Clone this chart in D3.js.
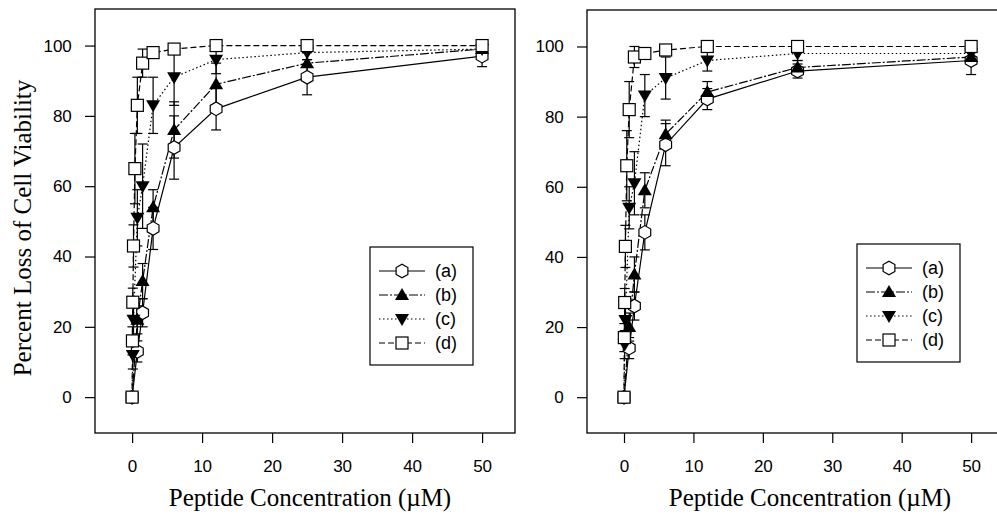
<!DOCTYPE html>
<html>
<head>
<meta charset="utf-8">
<script src="https://cdn.jsdelivr.net/npm/d3@7"></script>
<style>
  body { margin: 0; background: #fff; }
  svg { display: block; }
</style>
</head>
<body>
<div id="chart"></div>
<script>
// peptide concentrations (uM), shared by every series
var conc = [0, 0.05, 0.1, 0.2, 0.4, 0.75, 1.5, 3, 6, 12, 25, 50];

// left panel, percent loss of viability (null = point not drawn)
var leftA = [0, null, null, null, null, 13, 24, 48, 71, 82, 91, 97];
var leftB = [0, null, null, null, null, 22, 33, 54, 76, 89, 95, 99];
var leftC = [0, null, 12, 22, null, 51, 60, 83, 91, 96, 98, 99];
var leftD = [0, 16, 27, 43, 65, 83, 95, 98, 99, 100, 100, 100];
var leftErrA = [0, 0, 0, 0, 0, 3, 4, 6, 9, 6, 5, 3];
var leftErrB = [0, 0, 0, 0, 0, 4, 5, 5, 8, 6, 3, 2];
var leftErrC = [0, 0, 4, 5, 0, 8, 12, 8, 8, 4, 2, 1];
var leftErrD = [0, 4, 4, 6, 10, 8, 4, 1, 1, 1, 1, 1];

// right panel
var rightA = [0, null, null, null, null, 14, 26, 47, 72, 85, 93, 96];
var rightB = [0, null, null, null, null, 20, 35, 59, 75, 87, 94, 97];
var rightC = [0, null, 15, 22, null, 54, 61, 86, 91, 96, 98, 98];
var rightD = [0, 17, 27, 43, 66, 82, 97, 98, 99, 100, 100, 100];
var rightErrA = [0, 0, 0, 0, 0, 3, 4, 5, 6, 3, 2, 4];
var rightErrB = [0, 0, 0, 0, 0, 4, 5, 5, 4, 3, 2, 2];
var rightErrC = [0, 0, 4, 5, 0, 6, 9, 6, 6, 3, 2, 1];
var rightErrD = [0, 4, 4, 6, 10, 8, 3, 1, 1, 1, 1, 1];

var seriesNames = ["(a)", "(b)", "(c)", "(d)"];
var xTicks = [0, 10, 20, 30, 40, 50];
var yTicks = [0, 20, 40, 60, 80, 100];

function init() {
    var w = 997;
    var h = 518;

    var svg = d3.select("#chart")
                .append("svg")
                .attr("width", w)
                .attr("height", h);

    // one style per series: line dash and marker
    var styles = [
      {dash: null, marker: "hex"},
      {dash: "9,2,2,2", marker: "up"},
      {dash: "1.5,2.5", marker: "down"},
      {dash: "6,3", marker: "square"}
    ];

    function drawMarker(g, type, x, y) {
      if (type === "square") {
        g.append("rect")
         .attr("x", x - 6).attr("y", y - 6)
         .attr("width", 12).attr("height", 12)
         .attr("fill", "#fff").attr("stroke", "#000").attr("stroke-width", 1.2);
      } else if (type === "hex") {
        var pts = d3.range(6).map(function(i) {
          var a = Math.PI / 6 + i * Math.PI / 3;
          return [x + 6.8 * Math.cos(a), y + 6.8 * Math.sin(a)];
        });
        g.append("polygon")
         .attr("points", pts.join(" "))
         .attr("fill", "#fff").attr("stroke", "#000").attr("stroke-width", 1.2);
      } else if (type === "up") {
        g.append("polygon")
         .attr("points", [[x, y - 7], [x - 7, y + 5], [x + 7, y + 5]].join(" "))
         .attr("fill", "#000");
      } else {
        g.append("polygon")
         .attr("points", [[x, y + 7], [x - 7, y - 5], [x + 7, y - 5]].join(" "))
         .attr("fill", "#000");
      }
    }

    function panel(opts) {
      var xScale = d3.scaleLinear()
                     .domain(opts.xDomain)
                     .range([opts.left, opts.right]);
      var yScale = d3.scaleLinear()
                     .domain([-10.2, 110.4])
                     .range([433, opts.top]);

      var g = svg.append("g");

      // frame
      g.append("rect")
       .attr("x", opts.left).attr("y", opts.top)
       .attr("width", opts.right - opts.left)
       .attr("height", 433 - opts.top)
       .attr("fill", "none").attr("stroke", "#000").attr("stroke-width", 1.3);

      // axes, ticks outside the frame
      var xAxis = d3.axisBottom(xScale).tickValues(xTicks).tickSize(10).tickSizeOuter(0);
      var yAxis = d3.axisLeft(yScale).tickValues(yTicks).tickSize(10).tickSizeOuter(0);

      var gx = g.append("g")
                .attr("transform", "translate(0,433)")
                .call(xAxis);
      var gy = g.append("g")
                .attr("transform", "translate(" + opts.left + ",0)")
                .call(yAxis);
      [gx, gy].forEach(function(ax) {
        ax.select(".domain").remove();
        ax.selectAll("line").attr("stroke", "#000").attr("stroke-width", 1.2);
        ax.selectAll("text")
          .attr("fill", "#000")
          .style("font-family", "'Liberation Sans', Arial, sans-serif")
          .style("font-size", "17px");
      });
      gx.selectAll("text").attr("dy", "1.5em");
      gy.selectAll("text").attr("dx", "-0.6em");

      // axis titles
      g.append("text")
       .attr("x", opts.xTitleX).attr("y", 506)
       .attr("text-anchor", "middle")
       .style("font-family", "'Liberation Serif', 'Times New Roman', serif")
       .style("font-size", "25px")
       .text("Peptide Concentration (\u00b5M)");

      var plot = g.append("g");

      opts.values.forEach(function(vals, s) {
        var pts = conc.map(function(c, i) {
          return {x: c, y: vals[i], e: opts.errs[s][i]};
        }).filter(function(d) { return d.y !== null; });

        var line = d3.line()
                     .x(function(d) { return xScale(d.x); })
                     .y(function(d) { return yScale(d.y); });

        plot.append("path")
            .datum(pts)
            .attr("d", line)
            .attr("fill", "none")
            .attr("stroke", "#000")
            .attr("stroke-width", 1.2)
            .attr("stroke-dasharray", styles[s].dash);

        // error bars with caps
        pts.forEach(function(d) {
          if (!d.e) return;
          var px = xScale(d.x);
          var y1 = yScale(d.y - d.e), y2 = yScale(d.y + d.e);
          plot.append("line")
              .attr("x1", px).attr("x2", px).attr("y1", y1).attr("y2", y2)
              .attr("stroke", "#000").attr("stroke-width", 1.2);
          [y1, y2].forEach(function(yy) {
            plot.append("line")
                .attr("x1", px - 5).attr("x2", px + 5).attr("y1", yy).attr("y2", yy)
                .attr("stroke", "#000").attr("stroke-width", 1.2);
          });
        });
      });

      // markers on top
      opts.values.forEach(function(vals, s) {
        conc.forEach(function(c, i) {
          if (vals[i] === null) return;
          drawMarker(plot, styles[s].marker, xScale(c), yScale(vals[i]));
        });
      });

      // legend
      var lg = g.append("g");
      lg.append("rect")
        .attr("x", opts.legX).attr("y", opts.legY)
        .attr("width", 103).attr("height", 118)
        .attr("fill", "#fff").attr("stroke", "#000").attr("stroke-width", 1.2);

      seriesNames.forEach(function(name, s) {
        var ly = opts.legY + 24 + s * 24;
        lg.append("line")
          .attr("x1", opts.legX + 9).attr("x2", opts.legX + 55)
          .attr("y1", ly).attr("y2", ly)
          .attr("stroke", "#000").attr("stroke-width", 1.2)
          .attr("stroke-dasharray", styles[s].dash);
        drawMarker(lg, styles[s].marker, opts.legX + 32, ly);
        lg.append("text")
          .attr("x", opts.legX + 65).attr("y", ly + 6)
          .style("font-family", "'Liberation Sans', Arial, sans-serif")
          .style("font-size", "18px")
          .text(name);
      });
    }

    panel({
      left: 95, right: 515, top: 9,
      xDomain: [-5.3, 54.7],
      values: [leftA, leftB, leftC, leftD],
      errs: [leftErrA, leftErrB, leftErrC, leftErrD],
      xTitleX: 310,
      legX: 370, legY: 247
    });

    panel({
      left: 587, right: 1010, top: 10,
      xDomain: [-5.33, 55.6],
      values: [rightA, rightB, rightC, rightD],
      errs: [rightErrA, rightErrB, rightErrC, rightErrD],
      xTitleX: 810,
      legX: 857, legY: 244
    });

    // shared y title
    svg.append("text")
       .attr("transform", "translate(31,228) rotate(-90)")
       .attr("text-anchor", "middle")
       .style("font-family", "'Liberation Serif', 'Times New Roman', serif")
       .style("font-size", "25px")
       .text("Percent Loss of Cell Viability");
}

window.onload = init;
</script>
</body>
</html>
